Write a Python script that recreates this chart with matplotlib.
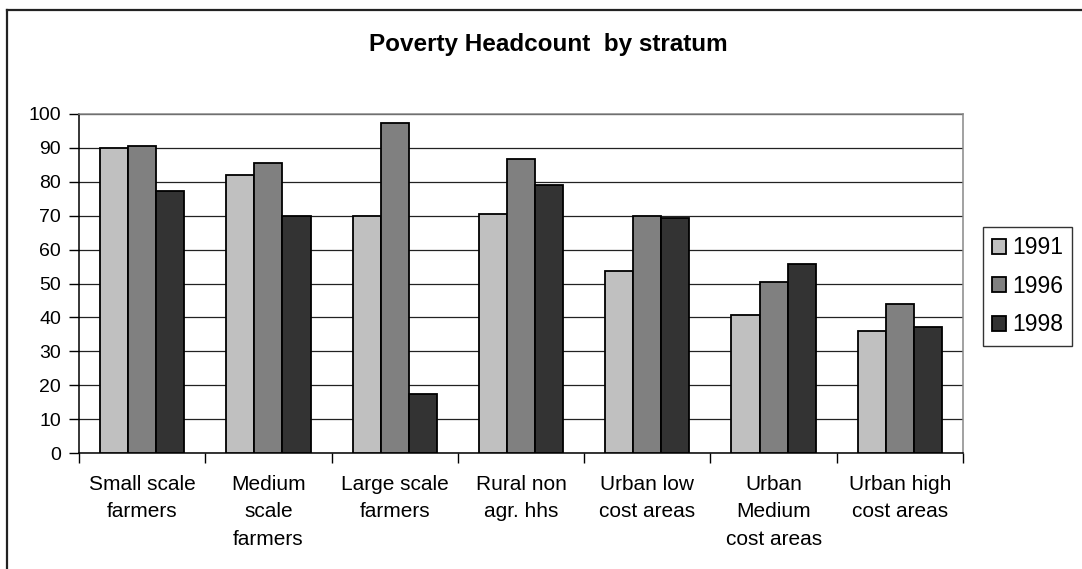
import matplotlib
matplotlib.use("Agg")
import matplotlib.pyplot as plt
from matplotlib.lines import Line2D
import numpy as np

plt.rcParams['font.family'] = ['Liberation Sans', 'DejaVu Sans']

categories = ["Small scale\nfarmers", "Medium\nscale\nfarmers", "Large scale\nfarmers",
              "Rural non\nagr. hhs", "Urban low\ncost areas", "Urban\nMedium\ncost areas",
              "Urban high\ncost areas"]
series_names = ["1991", "1996", "1998"]
v1991 = [90.0, 82.0, 70.0, 70.6, 53.6, 40.6, 35.9]
v1996 = [90.5, 85.4, 97.2, 86.7, 69.8, 50.4, 43.9]
v1998 = [77.4, 69.8, 17.4, 79.2, 69.4, 55.7, 37.2]
yticks = [0, 10, 20, 30, 40, 50, 60, 70, 80, 90, 100]
title = "Poverty Headcount  by stratum"

colors = ["#C0C0C0", "#808080", "#333333"]

W, H = 1082, 569
fig = plt.figure(figsize=(W / 100, H / 100), dpi=100)
fig.patch.set_facecolor("white")

# outer chart border
fig.add_artist(Line2D([7 / W, 7 / W], [0, 1 - 10 / H], transform=fig.transFigure,
                      color="#222222", lw=1.6))
fig.add_artist(Line2D([7 / W, 1.0], [1 - 10 / H, 1 - 10 / H], transform=fig.transFigure,
                      color="#222222", lw=1.6))

ax = fig.add_axes([79 / W, 1 - 453 / H, (963 - 79) / W, (453 - 114) / H])
x = np.arange(len(categories))
w = 1 / 4.5
for i, (vals, name) in enumerate(zip([v1991, v1996, v1998], series_names)):
    ax.bar(x + (i - 1) * w, vals, width=w, color=colors[i], edgecolor="black",
           linewidth=1.3, label=name, zorder=3)

ax.set_xlim(-0.5, len(categories) - 0.5)
ax.set_ylim(0, 100)
ax.set_yticks(yticks)
ax.set_yticklabels([str(t) for t in yticks])
ax.yaxis.grid(True, color="#222222", lw=0.9, zorder=0)
ax.set_axisbelow(True)

ax.set_xticks(x)
ax.set_xticklabels(categories, linespacing=1.55)
ax.set_xticks(np.arange(-0.5, len(categories), 1.0), minor=True)
ax.tick_params(axis="x", which="major", length=0, pad=16, labelsize=15)
ax.tick_params(axis="x", which="minor", length=7, width=1, direction="out")
ax.tick_params(axis="y", length=7, width=1, direction="out", pad=6, labelsize=14)

for s in ["left", "bottom"]:
    ax.spines[s].set_color("black")
    ax.spines[s].set_linewidth(1.1)
for s in ["top", "right"]:
    ax.spines[s].set_color("#888888")
    ax.spines[s].set_linewidth(1.1)

fig.text(548 / W, 1 - 44 / H, title, ha="center", va="center",
         fontsize=17.5, fontweight="bold")

leg = fig.legend(loc="upper left", bbox_to_anchor=(983 / W, 1 - 227 / H),
                 bbox_transform=fig.transFigure, fontsize=16.5, frameon=True,
                 fancybox=False, shadow=False, handlelength=0.62, handleheight=0.62,
                 handletextpad=0.25, labelspacing=0.68, borderpad=0.4,
                 borderaxespad=0)
leg.get_frame().set_edgecolor("black")
leg.get_frame().set_linewidth(1.0)

fig.savefig("out.png", dpi=100)
